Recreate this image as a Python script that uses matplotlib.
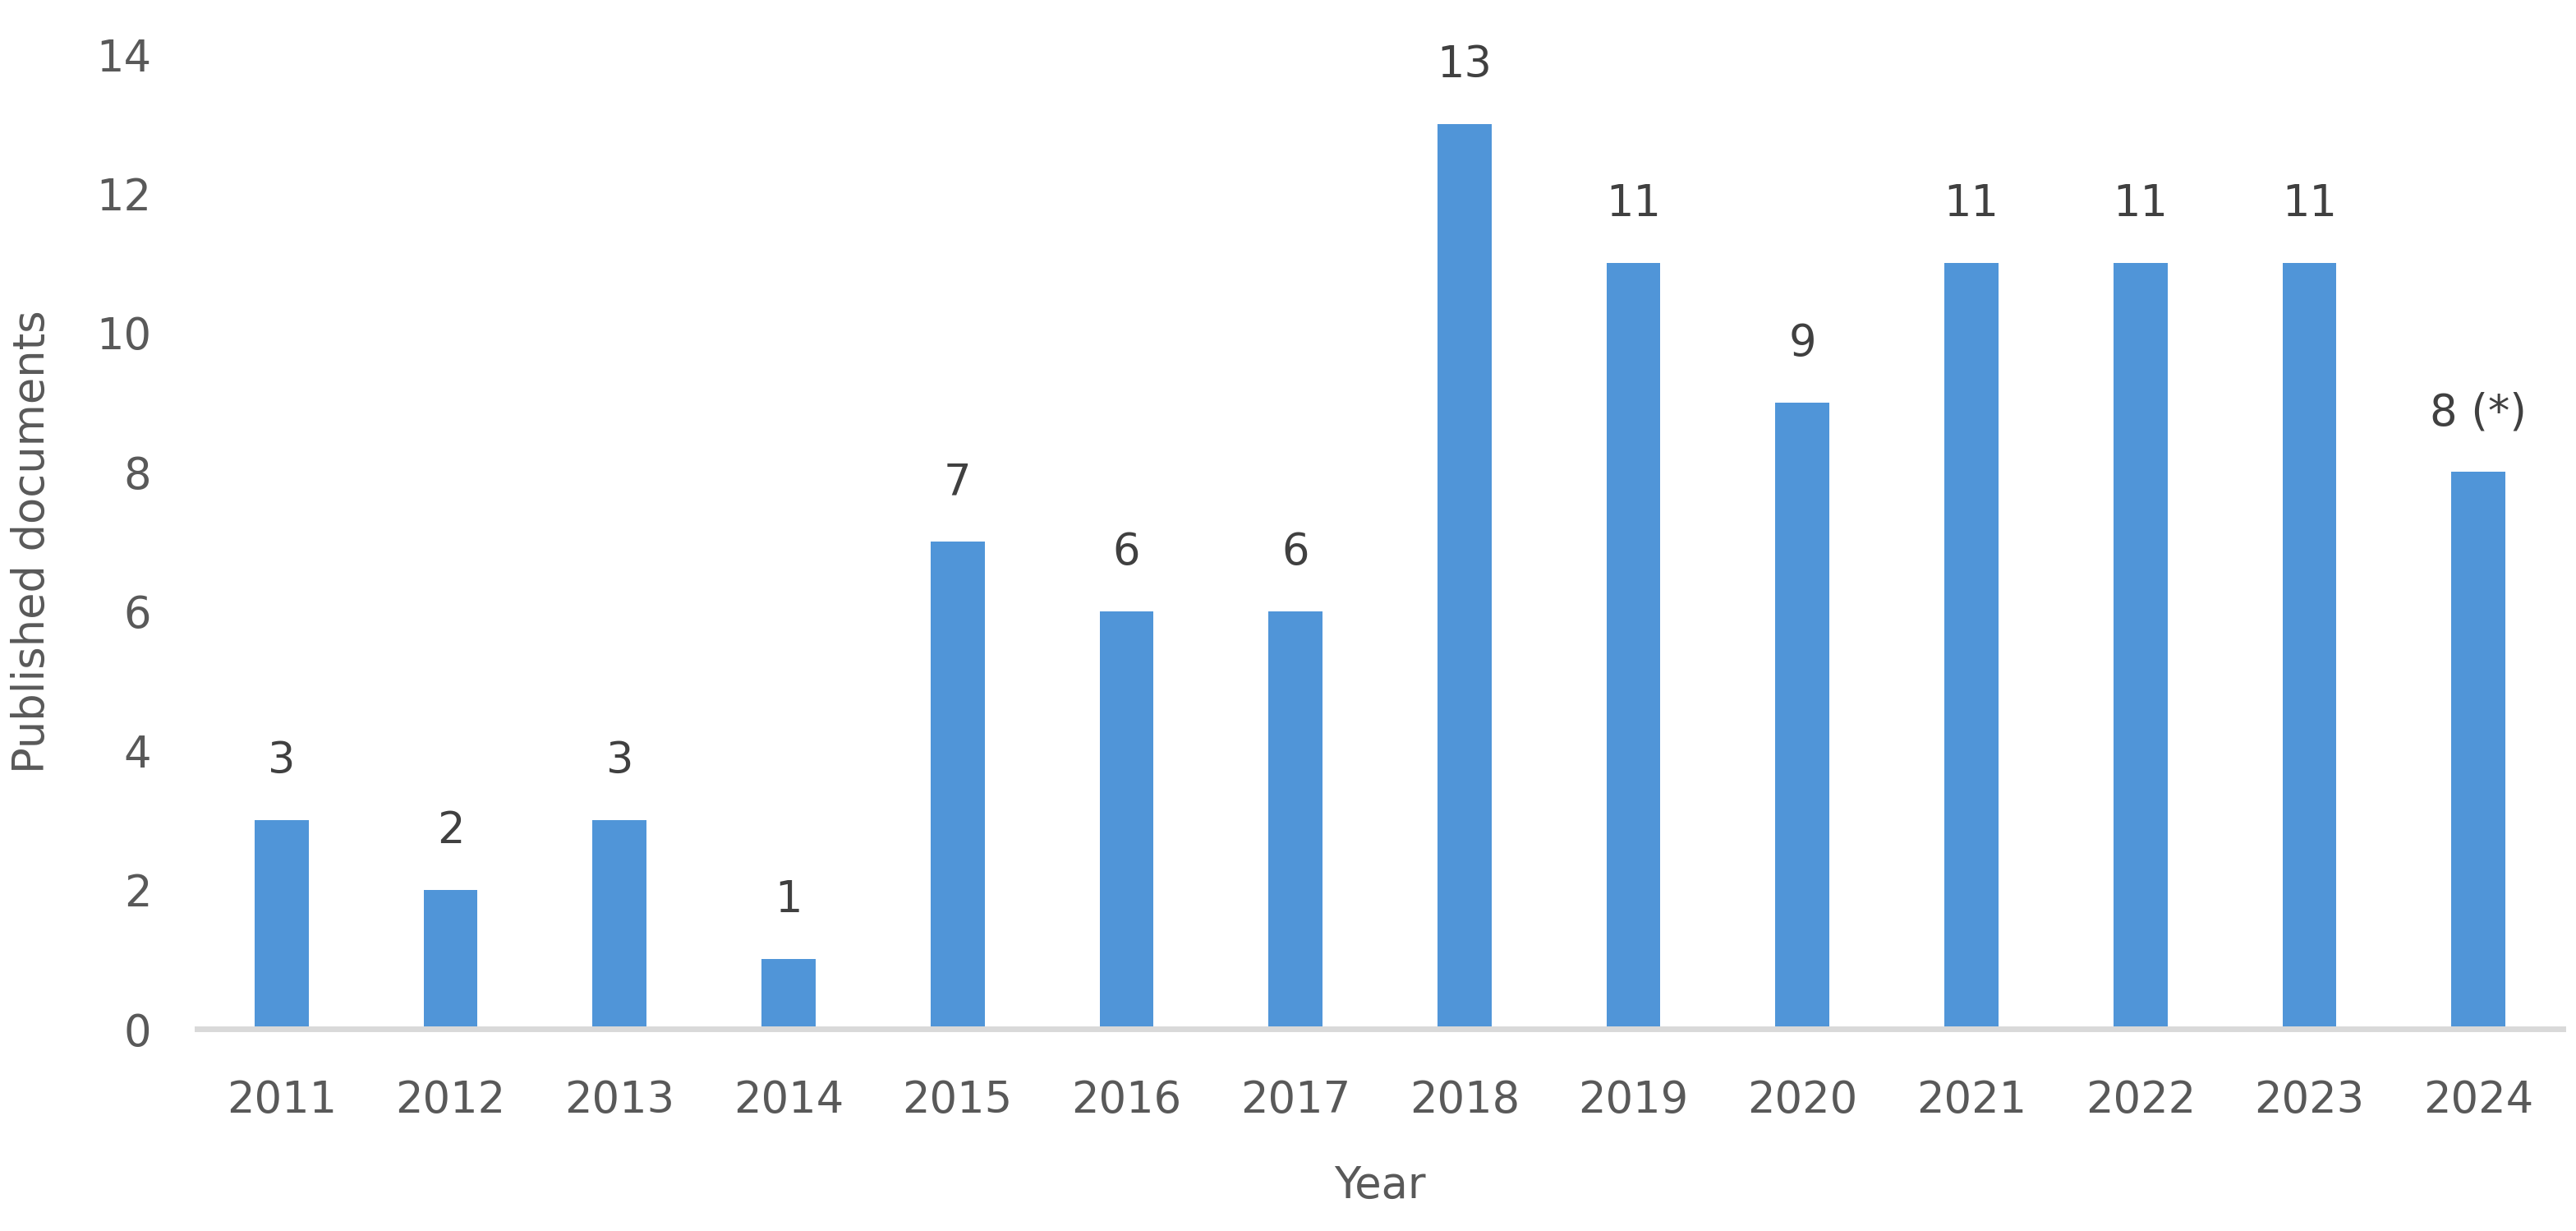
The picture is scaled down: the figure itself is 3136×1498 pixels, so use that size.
import matplotlib.pyplot as plt

years = ['2011', '2012', '2013', '2014', '2015', '2016', '2017',
         '2018', '2019', '2020', '2021', '2022', '2023', '2024']
docs = [3, 2, 3, 1, 7, 6, 6, 13, 11, 9, 11, 11, 11, 8]
bar_labels = ['3', '2', '3', '1', '7', '6', '6', '13', '11', '9', '11', '11', '11', '8 (*)']
yticks = [0, 2, 4, 6, 8, 10, 12, 14]

plt.rcParams['font.family'] = 'DejaVu Sans'

fig = plt.figure(figsize=(31.36, 14.98), dpi=100)
ax = fig.add_axes([240 / 3136, 1 - 1252 / 1498, 2880 / 3136, (1252 - 66) / 1498])

x = list(range(len(years)))
bars = ax.bar(x, docs, width=0.32, color='#5095D8', zorder=2)

# value labels above each bar
for b, lab in zip(bars, bar_labels):
    ax.annotate(lab, (b.get_x() + b.get_width() / 2, b.get_height()),
                xytext=(0, 33), textcoords='offset points',
                ha='center', va='bottom', fontsize=38, color='#404040')

ax.set_xlim(-0.5, len(years) - 0.5)
ax.set_ylim(0, 14)
ax.set_xticks(x)
ax.set_xticklabels(years)
ax.set_yticks(yticks)

for s in ['top', 'right', 'left']:
    ax.spines[s].set_visible(False)
ax.spines['bottom'].set_color('#D9D9D9')
ax.spines['bottom'].set_linewidth(5)

ax.tick_params(axis='x', length=0, pad=44, labelsize=38, labelcolor='#595959')
ax.tick_params(axis='y', length=0, pad=40, labelsize=38, labelcolor='#595959')

ax.set_xlabel('Year', fontsize=38, color='#595959', labelpad=37)
ax.set_ylabel('Published documents', fontsize=38, color='#595959', labelpad=38)

fig.savefig('out.png', dpi=100)
